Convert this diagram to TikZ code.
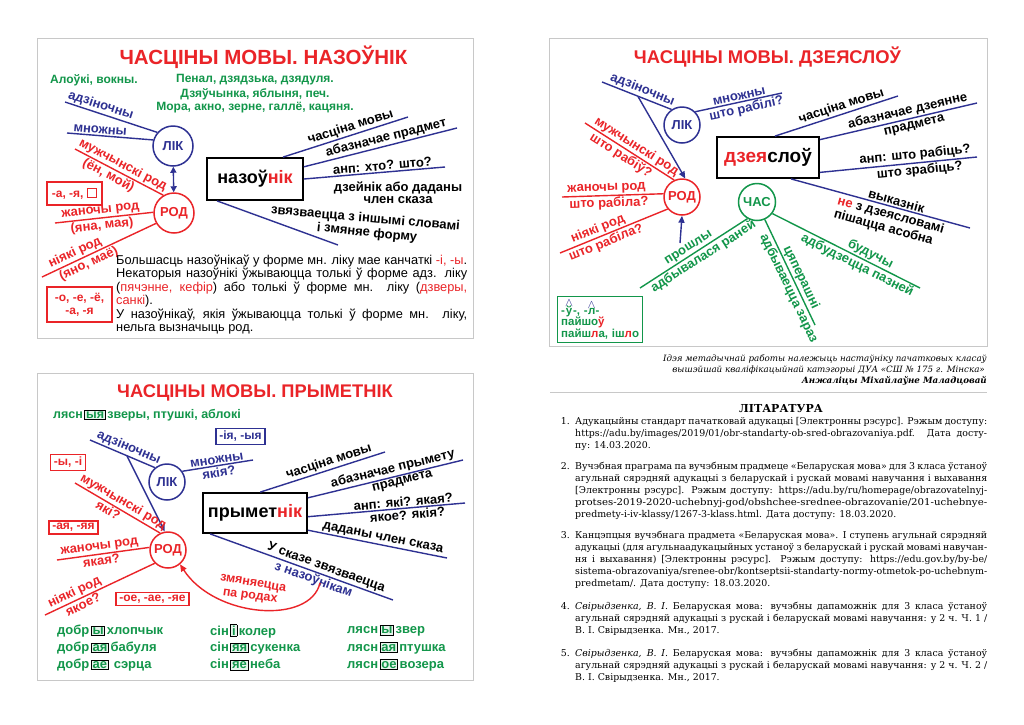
\documentclass[tikz,border=0pt]{standalone}
\usepackage{fontspec}
\setmainfont{Liberation Serif}
\setsansfont{Liberation Sans}
\newfontfamily\litfont{DejaVu Serif}
\usepackage{graphicx}
\usetikzlibrary{arrows.meta}
\definecolor{navyc}{RGB}{46,49,146}
\definecolor{redc}{RGB}{234,36,40}
\definecolor{grnc}{RGB}{18,150,74}
\definecolor{framec}{RGB}{200,200,200}
\newcommand\sqbx{{\fboxsep=0pt\fboxrule=1.1pt\fbox{\rule{0pt}{8pt}\rule{8pt}{0pt}}}}
\newcommand\gbx[1]{\hspace{1.5pt}{\fboxsep=0.8pt\fboxrule=0.9pt\fcolorbox{black}{grnc!10}{\textcolor{grnc}{#1}}}\hspace{1.5pt}}
\newcommand\hatted[1]{\leavevmode\vbox{\offinterlineskip\halign{\hfil##\hfil\cr{\color{navyc}\fontsize{12}{12}\selectfont$\wedge$}\cr\noalign{\kern-0.5pt}#1\cr}}}
\newcommand\jl[1]{\makebox[412pt][s]{#1}}
\newcommand\jr[1]{\resizebox{412pt}{\height}{#1}}
\newcommand\pl[1]{\makebox[351pt][s]{#1}}
\tikzset{
 panelframe/.style={draw=framec, line width=0.9pt},
 ttl/.style={text=redc, font=\sffamily\bfseries\fontsize{#1}{#1}\selectfont, inner sep=0pt},
 lbl/.style={font=\sffamily\bfseries\fontsize{13}{13.5}\selectfont, inner sep=1.2pt},
 lb/.style={lbl, text=navyc},
 lr/.style={lbl, text=redc},
 lg/.style={lbl, text=grnc},
 lk/.style={lbl, text=black},
 gtx/.style={font=\sffamily\bfseries\fontsize{12}{12}\selectfont, text=grnc, inner sep=0pt},
 gtab/.style={font=\sffamily\bfseries\fontsize{13}{13}\selectfont, text=grnc, inner sep=0pt, anchor=west},
 circ/.style={circle, minimum size=#1, inner sep=0pt, line width=1.5pt, fill=white, font=\sffamily\bfseries\fontsize{13}{13}\selectfont},
 nav/.style={draw=navyc, line width=1.4pt},
 redl/.style={draw=redc, line width=1.4pt},
 grl/.style={draw=grnc, line width=1.4pt},
 arr/.style={-{Triangle[length=7pt,width=6pt]}},
 wbox/.style={draw=black, line width=1.8pt, fill=white, inner sep=0pt, font=\sffamily\bfseries\fontsize{#1}{#1}\selectfont},
 rbox/.style={draw=redc, line width=1.4pt, text=redc, inner xsep=3.5pt, inner ysep=2.5pt, font=\sffamily\bfseries\fontsize{12}{13}\selectfont},
 gbox/.style={draw=grnc, line width=1.4pt, text=grnc, font=\sffamily\bfseries\fontsize{11.5}{11.5}\selectfont, align=left, inner sep=3pt},
 ptext/.style={font=\sffamily\fontsize{12.8}{14}\selectfont, anchor=base west, inner sep=0pt},
 lit/.style={font=\litfont\fontsize{9.4}{12}\selectfont, inner sep=0pt},
 litw/.style={lit, anchor=base west},
 captxt/.style={font=\litfont\itshape\fontsize{8.7}{11}\selectfont, inner sep=0pt, anchor=base east},
}
\begin{document}
\begin{tikzpicture}[x=1pt,y=-1pt]
\useasboundingbox (0,0) rectangle (1024,724);
\fill[white] (0,0) rectangle (1024,724);

%================ PANEL 1 : НАЗОЎНІК
\draw[panelframe] (37,38) rectangle (473,338);
\node[ttl=20.5] (t1) at (263.5,57) {ЧАСЦІНЫ МОВЫ. НАЗОЎНІК};
\node[gtx] (g1) at (94,80) {Алоўкі, вокны.};
\node[gtx] (g2) at (255,80) {Пенал, дзядзька, дзядуля.};
\node[gtx] (g3) at (255,94) {Дзяўчынка, яблыня, печ.};
\node[gtx] (g4) at (255,108) {Мора, акно, зерне, галлё, кацяня.};

\node[circ=40pt, draw=navyc, text=navyc] (lik1) at (173,146) {ЛІК};
\node[circ=40pt, draw=redc, text=redc] (rod1) at (174,213) {РОД};
\draw[nav, {Triangle[length=6pt,width=6pt]}-{Triangle[length=6pt,width=6pt]}] (lik1) -- (rod1);

\coordinate (a1) at (65,102);
\draw[nav] (a1) -- (lik1.139) node[lb, pos=.36, sloped, above] (a1t) {адзіночны};
\coordinate (a2) at (67,133);
\draw[nav] (a2) -- (lik1.163) node[lb, pos=.38, sloped, above] (a2t) {множны};
\coordinate (a3) at (75,149);
\draw[redl] (a3) -- (rod1.121) node[lr, pos=.5, sloped, above] (a3t) {мужчынскі род} node[lr, pos=.42, sloped, below] (a3u) {(ён, мой)};
\coordinate (a4) at (55,223);
\draw[redl] (a4) -- (rod1.178) node[lr, pos=.47, sloped, above] (a4t) {жаночы род} node[lr, pos=.47, sloped, below] (a4u) {(яна, мая)};
\coordinate (a5) at (42,277);
\draw[redl] (a5) -- (rod1.210) node[lr, pos=.32, sloped, above] (a5t) {ніякі род} node[lr, pos=.38, sloped, below] (a5u) {(яно, маё)};

\node[rbox, minimum width=55pt, minimum height=23pt] (rb1) at (74.5,193.5) {-а, -я, \sqbx};
\node[rbox, align=center, minimum width=65pt, minimum height=35pt] (rb2) at (79.5,304.5) {-о, -е, -ё,\\-а, -я};

\node[wbox=18, minimum width=96pt, minimum height=42pt] (noun) at (255,179) {назоў\textcolor{redc}{нік}};
\coordinate (n1) at (408,117);
\draw[nav] (noun.38) -- (n1) node[lk, pos=.56, sloped, above] (n1t) {часціна мовы};
\coordinate (n2) at (457,128);
\draw[nav] (noun.14) -- (n2) node[lk, pos=.55, sloped, above] (n2t) {абазначае прадмет};
\coordinate (n3) at (445,167);
\draw[nav] (noun.east) -- (n3) node[lk, pos=.56, sloped, above] (n3t) {анп: хто? што?};
\node[lk, align=center, font=\sffamily\bfseries\fontsize{13}{11.5}\selectfont] (n3b) at (398,192.5) {дзейнік або даданы\\член сказа};
\coordinate (n4) at (338,245);
\draw[nav] (noun.210) -- (n4);
\node[lk, rotate=-5] (n4t) at (365.5,218.5) {звязваецца з іншымі словамі};
\node[lk, rotate=-6] (n4u) at (367,233) {і змяняе форму};

\node[ptext] (p1) at (116,264) {\pl{Большасць назоўнікаў у форме мн. ліку мае канчаткі \textcolor{redc}{-і, -ы}.}};
\node[ptext] (p2) at (116,277.5) {\pl{Некаторыя назоўнікі ўжываюцца толькі ў форме адз. ліку}};
\node[ptext] (p3) at (116,291) {\pl{(\textcolor{redc}{пячэнне, кефір}) або толькі ў форме мн. ліку (\textcolor{redc}{дзверы,}}};
\node[ptext] (p4) at (116,304.5) {\textcolor{redc}{санкі}).};
\node[ptext] (p5) at (116,318) {\pl{У назоўнікаў, якія ўжываюцца толькі ў форме мн. ліку,}};
\node[ptext] (p6) at (116,331.5) {нельга вызначыць род.};

%================ PANEL 3 : ПРЫМЕТНІК
\draw[panelframe] (37,373) rectangle (473,680);
\node[ttl=18.3] (t3) at (255,393) {ЧАСЦІНЫ МОВЫ. ПРЫМЕТНІК};
\node[gtab, font=\sffamily\bfseries\fontsize{12.5}{12.5}\selectfont] (g5) at (53,415) {лясн\gbx{ыя}зверы, птушкі, аблокі};

\node[circ=36pt, draw=navyc, text=navyc] (lik3) at (167,482) {ЛІК};
\node[circ=36pt, draw=redc, text=redc] (rod3) at (168,550) {РОД};

\coordinate (b1) at (90,440);
\draw[nav] (b1) -- (lik3.130) node[lb, pos=.55, sloped, above] (b1t) {адзіночны};
\coordinate (b1a) at (127,456);
\draw[nav, arr] (b1a) -- (rod3.100);
\coordinate (b2) at (253,460);
\draw[nav] (lik3.35) -- (b2) node[lb, pos=.5, sloped, above] (b2t) {множны} node[lb, pos=.5, sloped, below] (b2u) {якія?};
\node[rbox, draw=navyc, text=navyc] (bb1) at (240.5,436.5) {-ія, -ыя};
\node[rbox] (rb3) at (68,462.5) {-ы, -і};
\node[rbox] (rb4) at (73.5,527.5) {-ая, -яя};
\node[rbox] (rb5) at (152.5,599) {-ое, -ае, -яе};

\coordinate (b3) at (75,483);
\draw[redl] (b3) -- (rod3.115) node[lr, pos=.52, sloped, above] (b3t) {мужчынскі род} node[lr, pos=.43, sloped, below] (b3u) {які?};
\coordinate (b4) at (57,560);
\draw[redl] (b4) -- (rod3.172) node[lr, pos=.47, sloped, above] (b4t) {жаночы род} node[lr, pos=.47, sloped, below] (b4u) {якая?};
\coordinate (b5) at (45,615);
\draw[redl] (b5) -- (rod3.225) node[lr, pos=.3, sloped, above] (b5t) {ніякі род} node[lr, pos=.32, sloped, below] (b5u) {якое?};

\node[wbox=18, minimum width=104pt, minimum height=40pt] (adj) at (255,513) {прымет\textcolor{redc}{нік}};
\coordinate (c1) at (385,452);
\draw[nav] (adj.76) -- (c1) node[lk, pos=.57, sloped, above] (c1t) {часціна мовы};
\coordinate (c2) at (463,460);
\draw[nav] (adj.16) -- (c2) node[lk, pos=.56, sloped, above] (c2t) {абазначае прымету} node[lk, pos=.6, sloped, below] (c2u) {прадмета};
\coordinate (c3) at (465,503);
\draw[nav] (adj.-4) -- (c3) node[lk, pos=.61, sloped, above] (c3t) {анп: які? якая?} node[lk, pos=.63, sloped, below] (c3u) {якое? якія?};
\coordinate (c4) at (447,558);
\draw[nav] (adj.-18) -- (c4) node[lk, pos=.53, sloped, above] (c4t) {даданы член сказа};
\coordinate (c5) at (393,600);
\draw[nav] (adj.205) -- (c5) node[lk, pos=.62, sloped, above] (c5t) {У сказе звязваецца} node[lb, pos=.58, sloped, below] (c5u) {з назоўнікам};

\coordinate (arcS) at (320,583);
\draw[redl, arr] (arcS) .. controls (310,625) and (215,618) .. (rod3.-50);
\node[lr, font=\sffamily\bfseries\fontsize{12.5}{12.5}\selectfont, rotate=-10] (zm1) at (253,584) {змяняецца};
\node[lr, font=\sffamily\bfseries\fontsize{12.5}{12.5}\selectfont, rotate=-8] (zm2) at (250,597) {па родах};

\node[gtab] (w11) at (57,631) {добр\gbx{ы}хлопчык};
\node[gtab] (w12) at (57,648) {добр\gbx{ая}бабуля};
\node[gtab] (w13) at (57,665) {добр\gbx{ае}\ сэрца};
\node[gtab] (w21) at (210,631) {сін\gbx{і}колер};
\node[gtab] (w22) at (210,648) {сін\gbx{яя}сукенка};
\node[gtab] (w23) at (210,665) {сін\gbx{яе}неба};
\node[gtab] (w31) at (347,631) {лясн\gbx{ы}звер};
\node[gtab] (w32) at (347,648) {лясн\gbx{ая}птушка};
\node[gtab] (w33) at (347,665) {лясн\gbx{ое}возера};

%================ PANEL 2 : ДЗЕЯСЛОЎ
\draw[panelframe] (549,38) rectangle (987,346);
\node[ttl=18.4] (t2) at (767.5,57) {ЧАСЦІНЫ МОВЫ. ДЗЕЯСЛОЎ};

\node[circ=36pt, draw=navyc, text=navyc] (lik2) at (682,125) {ЛІК};
\node[circ=36pt, draw=redc, text=redc] (rod2) at (682,197) {РОД};
\node[circ=37pt, draw=grnc, text=grnc] (chas2) at (757,202) {ЧАС};

\coordinate (d1) at (602,82);
\draw[nav] (d1) -- (lik2.124) node[lb, pos=.54, sloped, above] (d1t) {адзіночны};
\coordinate (d1a) at (638,96.5);
\draw[nav, arr] (d1a) -- (rod2.80);
\coordinate (d1b) at (680,243);
\draw[nav, arr] (d1b) -- (rod2.south);
\coordinate (d2) at (782,93);
\draw[nav] (lik2.45) -- (d2) node[lb, pos=.52, sloped, above] (d2t) {множны} node[lb, pos=.57, sloped, below] (d2u) {што рабілі?};

\coordinate (d3) at (585,123);
\draw[redl] (d3) -- (rod2.115) node[lr, pos=.53, sloped, above] (d3t) {мужчынскі род} node[lr, pos=.45, sloped, below] (d3u) {што рабіў?};
\coordinate (d4) at (562,197);
\draw[redl] (d4) -- (rod2.170) node[lr, pos=.44, sloped, above] (d4t) {жаночы род} node[lr, pos=.46, sloped, below] (d4u) {што рабіла?};
\coordinate (d5) at (560,253);
\draw[redl] (d5) -- (rod2.220) node[lr, pos=.38, sloped, above] (d5t) {ніякі род} node[lr, pos=.4, sloped, below] (d5u) {што рабіла?};

\node[gbox, anchor=north west, minimum width=85pt, minimum height=42pt, text width=78pt] (gb) at (557,296) {-\hatted{ў}-, -\hatted{л}-\\пайшо\textcolor{redc}{ў}\\пайш\textcolor{redc}{л}а, іш\textcolor{redc}{л}о};

\node[wbox=19, minimum width=102pt, minimum height=41pt] (verb) at (768,157.5) {\textcolor{redc}{дзея}слоў};
\coordinate (e1) at (898,96);
\draw[nav] (verb.72) -- (e1) node[lk, pos=.56, sloped, above] (e1t) {часціна мовы};
\coordinate (e2) at (977,103);
\draw[nav] (verb.19) -- (e2) node[lk, pos=.57, sloped, above] (e2t) {абазначае дзеянне} node[lk, pos=.59, sloped, below=1.5pt] (e2u) {прадмета};
\coordinate (e3) at (977,157);
\draw[nav] (verb.-16) -- (e3) node[lk, pos=.61, sloped, above] (e3t) {анп: што рабіць?} node[lk, pos=.63, sloped, below] (e3u) {што зрабіць?};
\coordinate (e4) at (970,228);
\draw[nav] (verb.-43) -- (e4) node[lk, pos=.58, sloped, above] (e4t) {выказнік};
\node[lk, rotate=-15.5, align=left] (e4u) at (889,222) {\textcolor{redc}{не} з дзеясловамі\\пішацца асобна};

\coordinate (f1) at (640,288);
\draw[grl] (f1) -- (chas2.240) node[lg, pos=.49, sloped, above] (f1t) {прошлы} node[lg, pos=.55, sloped, below] (f1u) {адбывалася раней};
\coordinate (f2) at (815,325);
\draw[grl] (chas2.-66) -- (f2) node[lg, pos=.58, sloped, above] (f2t) {цяперашні} node[lg, pos=.62, sloped, below] (f2u) {адбываецца зараз};
\coordinate (f3) at (920,288);
\draw[grl] (chas2.-37) -- (f3) node[lg, pos=.64, sloped, above] (f3t) {будучы} node[lg, pos=.6, sloped, below] (f3u) {адбудзецца пазней};

%================ CAPTION & LITERATURE
\node[captxt] (cp1) at (987,361.5) {Ідэя метадычнай работы належыць настаўніку пачатковых класаў};
\node[captxt] (cp2) at (985,372.5) {вышэйшай кваліфікацыйнай катэгорыі ДУА «СШ № 175 г. Мінска»};
\node[captxt] (cp3) at (987,383.5) {\bfseries Анжаліцы Міхайлаўне Маладцовай};
\draw[framec, line width=0.8pt] (550,392) -- (987,392);
\node[lit, font=\litfont\bfseries\fontsize{11}{12}\selectfont] (lith) at (781,409) {ЛІТАРАТУРА};

\node[lit, anchor=base east] (num1) at (570,424) {1.};
\node[litw] (l11) at (575,424) {\jl{Адукацыйны стандарт пачатковай адукацыі [Электронны рэсурс]. Рэжым доступу:}};
\node[litw] (l12) at (575,436) {\jl{https://adu.by/images/2019/01/obr-standarty-ob-sred-obrazovaniya.pdf. Дата досту-}};
\node[litw] (l13) at (575,448) {пу: 14.03.2020.};

\node[lit, anchor=base east] (num2) at (570,469) {2.};
\node[litw] (l21) at (575,469) {\jl{Вучэбная праграма па вучэбным прадмеце «Беларуская мова» для 3 класа ўстаноў}};
\node[litw] (l22) at (575,481) {\jl{агульнай сярэдняй адукацыі з беларускай і рускай мовамі навучання і выхавання}};
\node[litw] (l23) at (575,493) {\jl{[Электронны рэсурс]. Рэжым доступу: https://adu.by/ru/homepage/obrazovatelnyj-}};
\node[litw] (l24) at (575,505) {\jr{protses-2019-2020-uchebnyj-god/obshchee-srednee-obrazovanie/201-uchebnye-}};
\node[litw] (l25) at (575,517) {predmety-i-iv-klassy/1267-3-klass.html. Дата доступу: 18.03.2020.};

\node[lit, anchor=base east] (num3) at (570,538) {3.};
\node[litw] (l31) at (575,538) {\jl{Канцэпцыя вучэбнага прадмета «Беларуская мова». І ступень агульнай сярэдняй}};
\node[litw] (l32) at (575,550) {\jl{адукацыі (для агульнаадукацыйных устаноў з беларускай і рускай мовамі навучан-}};
\node[litw] (l33) at (575,562) {\jl{ня і выхавання) [Электронны рэсурс]. Рэжым доступу: https://edu.gov.by/by-be/}};
\node[litw] (l34) at (575,574) {\jr{sistema-obrazovaniya/srenee-obr/kontseptsii-standarty-normy-otmetok-po-uchebnym-}};
\node[litw] (l35) at (575,586) {predmetam/. Дата доступу: 18.03.2020.};

\node[lit, anchor=base east] (num4) at (570,609) {4.};
\node[litw] (l41) at (575,609) {\jl{\textit{Свірыдзенка, В. І.} Беларуская мова: вучэбны дапаможнік для 3 класа ўстаноў}};
\node[litw] (l42) at (575,621) {\jl{агульнай сярэдняй адукацыі з рускай і беларускай мовамі навучання: у 2 ч. Ч. 1 /}};
\node[litw] (l43) at (575,633) {В. І. Свірыдзенка. Мн., 2017.};

\node[lit, anchor=base east] (num5) at (570,656) {5.};
\node[litw] (l51) at (575,656) {\jl{\textit{Свірыдзенка, В. І.} Беларуская мова: вучэбны дапаможнік для 3 класа ўстаноў}};
\node[litw] (l52) at (575,668) {\jl{агульнай сярэдняй адукацыі з рускай і беларускай мовамі навучання: у 2 ч. Ч. 2 /}};
\node[litw] (l53) at (575,680) {В. І. Свірыдзенка. Мн., 2017.};
\end{tikzpicture}
\end{document}
